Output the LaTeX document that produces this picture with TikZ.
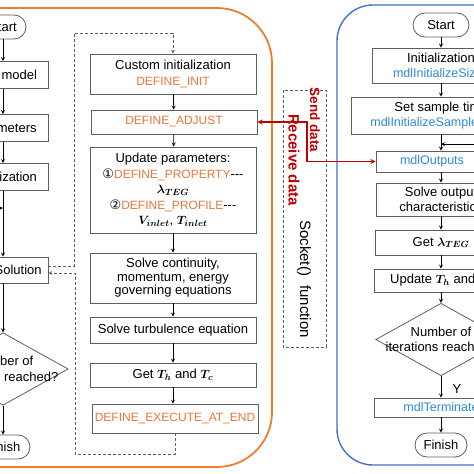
\documentclass[tikz,border=0pt]{standalone}
\usepackage{fontspec}
\setmainfont{Liberation Sans}
\newfontfamily\circfont{DejaVu Sans}
\usepackage{amsmath}
\usetikzlibrary{shapes.geometric}
\definecolor{udforange}{HTML}{E9773A}
\definecolor{frameorange}{HTML}{ED7D31}
\definecolor{frameblue}{HTML}{4472C4}
\definecolor{sfuncblue}{HTML}{2E8AD8}
\definecolor{datared}{HTML}{C00000}
\definecolor{boxgray}{HTML}{5E5E5E}
\newcommand{\udf}[1]{{\color{udforange}\fontsize{12}{15.5}\selectfont #1}}
\newcommand{\sfn}[1]{{\color{sfuncblue}\fontsize{12.5}{15.5}\selectfont #1}}
\newcommand{\bmath}[1]{$\boldsymbol{#1}$}
\tikzset{
  box/.style={draw=boxgray, line width=0.8pt, align=center, inner sep=2pt},
  leftbox/.style={box, minimum width=90pt, minimum height=27pt},
  midbox/.style={box, minimum width=166pt},
  term/.style={box, rounded corners=12pt, minimum height=24pt},
  decision/.style={box, diamond, aspect=1.8, inner sep=-4.5pt},
  flow/.style={->, line width=0.8pt},
  dashloop/.style={->, boxgray, line width=0.7pt, dash pattern=on 3pt off 2pt},
  sidetext/.style={rotate=-90, datared, font=\bfseries\fontsize{13.5}{15}\selectfont}
}
\begin{document}
\begin{tikzpicture}[>=stealth, x=1pt, y=-1pt, every node/.style={font=\fontsize{13}{15.5}\selectfont}]
  \useasboundingbox (0,0) rectangle (474,474);
  \fill[white] (0,0) rectangle (474,474);
  \clip (0,0) rectangle (474,474);
  \draw[frameorange, line width=1.8pt, rounded corners=55pt] (-70,8) rectangle (272,467);
  \draw[frameblue, line width=1.4pt, rounded corners=36pt] (337,5) rectangle (540,465);

  \node[term, minimum width=46pt] (start) at (3,27) {Start};
  \node[leftbox] (model) at (3,75) {Build model};
  \node[leftbox] (param) at (3,128) {Parameters};
  \node[leftbox] (initial) at (3,177) {Initialization};
  \node[leftbox, minimum height=26pt] (solution) at (3,270) {CFD Solution};
  \node[decision] (check) at (3,369) {Number of\\iterations reached?};
  \node[term, minimum width=54pt] (finish) at (3,447) {Finish};
  \coordinate (merge) at (3,208);
  \draw[flow] (start) -- (model);
  \draw[flow] (model) -- (param);
  \draw[flow] (param) -- (initial);
  \draw[flow] (initial) -- (solution);
  \draw[flow] (solution) -- (check);
  \draw[flow] (check) -- (finish);
  \draw[flow] (check.west) -- ++(-14,0) |- (merge);

  \node[midbox, minimum height=40pt] (custom) at (173,74) {Custom initialization\\\udf{DEFINE\_INIT}};
  \node[midbox, minimum height=24pt] (adjust) at (174,122) {\udf{DEFINE\_ADJUST}};
  \node[midbox, minimum height=86pt] (update) at (173,190) {Update parameters:\\{\circfont ①}\udf{DEFINE\_PROPERTY}-{}-{}-\\\bmath{\lambda_{TEG}}\\{\circfont ②}\udf{DEFINE\_PROFILE}-{}-{}-\\\bmath{V_{inlet}},\ \bmath{T_{inlet}}};
  \node[midbox, minimum height=50pt] (govern) at (173,278) {Solve continuity,\\[-2pt]momentum, energy\\[-2pt]governing equations};
  \node[midbox, minimum height=26pt] (turb) at (173,330) {Solve turbulence equation};
  \node[midbox, minimum height=24pt] (gettemp) at (173,375) {Get \bmath{T_h} and \bmath{T_c}};
  \node[midbox, minimum height=29pt] (execute) at (175,418.5) {\udf{DEFINE\_EXECUTE\_AT\_END}};
  \draw[flow] (custom) -- (adjust);
  \draw[flow] (adjust) -- (update);
  \draw[flow] (update) -- (govern);
  \draw[flow] (govern) -- (turb);
  \draw[flow] (turb) -- (gettemp);
  \draw[flow] (gettemp) -- (gettemp |- execute.north);
  \coordinate (loopTop) at (74,33);
  \coordinate (loopBottom) at (75,454);
  \draw[dashloop] ([yshift=4pt]solution.east) -| (loopTop) -| (custom.north);
  \draw[dashloop] (execute.south) |- (loopBottom) |- ([yshift=-3pt]solution.east);

  \draw[boxgray, line width=0.7pt, dash pattern=on 3pt off 2pt] (283,90) rectangle (326,347);
  \node[sidetext] (send) at (315,120) {Send data};
  \node[sidetext, font=\bfseries\fontsize{15}{17}\selectfont] (receive) at (294,160) {Receive data};
  \node[rotate=-90, font=\fontsize{15}{17}\selectfont] (socketfn) at (304,279) {Socket()\hspace{5pt} function};

  \node[term, minimum width=56pt] (rstart) at (441,25) {Start};
  \node[box, minimum width=138pt, minimum height=35pt] (rinit) at (441,65.5) {Initialization\\\sfn{mdlInitializeSizes}};
  \node[box, minimum width=180pt, minimum height=37pt] (rsample) at (441,115.5) {Set sample time\\\sfn{mdlInitializeSampleTimes}};
  \node[box, minimum width=112pt, minimum height=21pt] (routputs) at (432,161.5) {\sfn{mdlOutputs}};
  \node[box, minimum width=130pt, minimum height=33pt] (rsolve) at (441,199.5) {Solve output\\characteristics};
  \node[box, minimum width=132pt, minimum height=25pt] (rlambda) at (441,242.5) {Get \bmath{\lambda_{TEG}}};
  \node[box, minimum width=134pt, minimum height=23pt] (rupdate) at (441,280.5) {Update \bmath{T_h} and \bmath{T_c}};
  \node[decision] (rcheck) at (441,339.5) {Number of\\iterations reached?};
  \node[box, minimum width=134pt, minimum height=19pt] (rterm) at (441,407.5) {\sfn{mdlTerminate}};
  \node[term, minimum width=52pt] (rfinish) at (441,445) {Finish};
  \node (yes) at (457,389) {Y};
  \coordinate (rmerge) at (441,144);
  \draw[flow] (rstart) -- (rinit);
  \draw[flow] (rinit) -- (rsample);
  \draw[flow] (rsample) -- (rsample |- routputs.north);
  \draw[flow] (rsample |- routputs.south) -- (rsolve);
  \draw[flow] (rsolve) -- (rlambda);
  \draw[flow] (rlambda) -- (rupdate);
  \draw[flow] (rupdate) -- (rcheck);
  \draw[flow] (rcheck) -- (rterm);
  \draw[flow] (rterm) -- (rfinish);
  \draw[flow] (rcheck.east) -- ++(14,0) |- (rmerge);

  \coordinate (relay) at (307,0);
  \draw[<->, datared, line width=1.3pt] (adjust.east) -| (relay |- routputs.west) -- (routputs.west);
\end{tikzpicture}
\end{document}
